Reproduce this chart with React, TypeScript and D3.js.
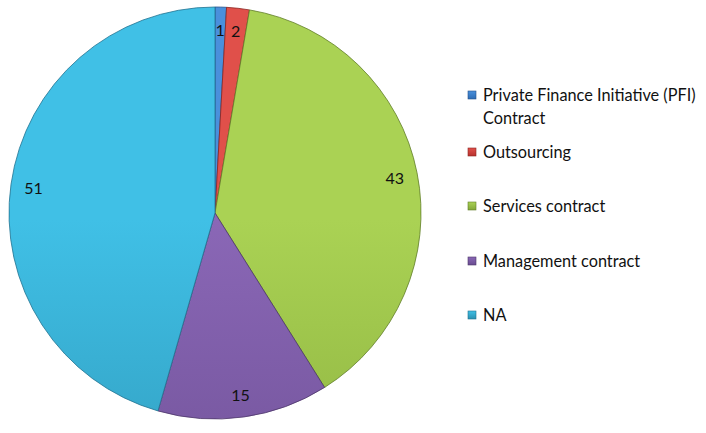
import * as d3 from "d3";

const categories = [
  "Private Finance Initiative (PFI) Contract",
  "Outsourcing",
  "Services contract",
  "Management contract",
  "NA",
];
const values = [1, 2, 43, 15, 51];
const legendLines = [
  ["Private Finance Initiative (PFI)", "Contract"],
  ["Outsourcing"],
  ["Services contract"],
  ["Management contract"],
  ["NA"],
];
// light (top) / dark (bottom) shade of each slice
const topColors = ["#4a90dc", "#e0504a", "#aad254", "#8a67b6", "#40c0e6"];
const bottomColors = ["#2e6cb4", "#b8322e", "#82a638", "#694c90", "#2b90b0"];
const strokeColors = ["#25528a", "#8a2521", "#617d28", "#4c3669", "#217290"];

const width = 706;
const height = 433;
const cx = 215;
const cy = 213;
const radius = 206;

export default function App() {
  const pie = d3.pie<number>().sort(null).value((d) => d)(values);
  const arc = d3.arc<d3.PieArcDatum<number>>().innerRadius(0).outerRadius(radius);
  const labelArc = d3
    .arc<d3.PieArcDatum<number>>()
    .innerRadius(radius * 0.89)
    .outerRadius(radius * 0.89);

  const legendY = d3.scaleOrdinal<number, number>().domain([0, 1, 2, 3, 4]).range([95, 152, 206, 261, 315]);

  return (
    <svg
      width={width}
      height={height}
      style={{ position: "absolute", left: 0, top: 0, background: "#fff" }}
      fontFamily="Lato, 'Open Sans', sans-serif"
    >
      <defs>
        {categories.map((c, i) => (
          <linearGradient
            key={c}
            id={"g" + i}
            gradientUnits="userSpaceOnUse"
            x1={0}
            y1={cy - radius}
            x2={0}
            y2={cy + radius}
          >
            <stop offset="0%" stopColor={topColors[i]} />
            <stop offset="100%" stopColor={bottomColors[i]} />
          </linearGradient>
        ))}
        {categories.map((c, i) => (
          <linearGradient key={c + "l"} id={"lg" + i} x1="0" y1="0" x2="0" y2="1">
            <stop offset="0%" stopColor={topColors[i]} />
            <stop offset="100%" stopColor={bottomColors[i]} />
          </linearGradient>
        ))}
      </defs>
      <g transform={`translate(${cx},${cy})`}>
        {pie.map((d, i) => (
          <path key={i} d={arc(d) || ""} fill={`url(#g${i})`} stroke={strokeColors[i]} strokeWidth={0.8} />
        ))}
        {pie.map((d, i) => {
          const [x, y] = labelArc.centroid(d);
          return (
            <text key={"t" + i} x={x} y={y} textAnchor="middle" dominantBaseline="central" fontSize={16} fill="#111">
              {values[i]}
            </text>
          );
        })}
      </g>
      <g>
        {legendLines.map((lines, i) => (
          <g key={i}>
            <rect
              x={468}
              y={legendY(i) - 4}
              width={8}
              height={8}
              fill={`url(#lg${i})`}
              stroke={strokeColors[i]}
              strokeWidth={0.6}
            />
            {lines.map((t, j) => (
              <text key={j} x={483} y={legendY(i) + 6 + j * 23} fontSize={16.3} fill="#111">
                {t}
              </text>
            ))}
          </g>
        ))}
      </g>
    </svg>
  );
}
